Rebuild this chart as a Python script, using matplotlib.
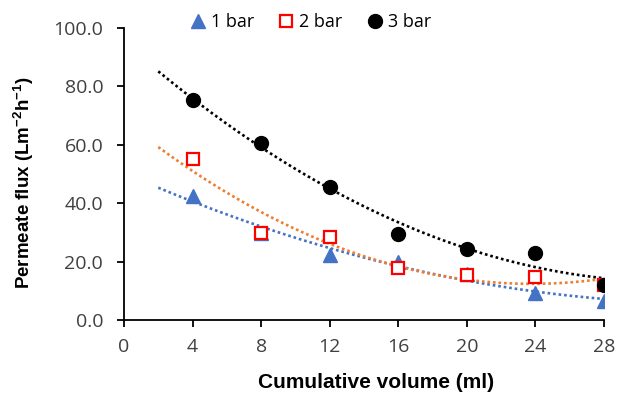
import numpy as np
import matplotlib.pyplot as plt
from matplotlib.lines import Line2D

plt.rcParams['mathtext.fontset'] = 'custom'
plt.rcParams['mathtext.rm'] = 'Liberation Sans'
plt.rcParams['mathtext.bf'] = 'Liberation Sans:bold'

# datos
volumen = [4, 8, 12, 16, 20, 24, 28]
flux_1bar = [42.5, 29.8, 22.4, 19.8, 15.8, 9.4, 6.4]
flux_2bar = [55.0, 29.7, 28.3, 17.8, 15.4, 14.6, 12.0]
flux_3bar = [75.3, 60.7, 45.7, 29.5, 24.3, 22.8, 12.0]
etiquetas = ['1 bar', '2 bar', '3 bar']

fig = plt.figure(figsize=(6.17, 3.94), dpi=100)
ax = fig.add_axes([124/617, 1-320/394, 480/617, 292/394])

# lineas de tendencia polinomicas (orden 2), extendidas 2 unidades hacia atras
xt = np.linspace(2, 28, 200)
colores_tend = ['#4472C4', '#ED7D31', '#000000']
for datos, c in zip([flux_1bar, flux_2bar, flux_3bar], colores_tend):
    p = np.polyfit(volumen, datos, 2)
    ax.plot(xt, np.polyval(p, xt), ls=(0, (1, 1.1)), lw=1.9, color=c, zorder=1)

ax.plot(volumen, flux_1bar, ls='none', marker='^', ms=10, color='#4472C4', zorder=3)
ax.plot(volumen, flux_2bar, ls='none', marker='s', ms=9, mfc='white', mec='#FF0000', mew=1.6, zorder=3)
ax.plot(volumen, flux_3bar, ls='none', marker='o', ms=10, color='#000000', zorder=4)

ax.set_xlim(0, 28)
ax.set_ylim(0, 100)
ax.set_xticks(range(0, 29, 4))
ax.set_yticks(range(0, 101, 20))
ax.set_yticklabels(['%.1f' % v for v in range(0, 101, 20)])
ax.spines['top'].set_visible(False)
ax.spines['right'].set_visible(False)
ax.spines['left'].set_linewidth(1.3)
ax.spines['bottom'].set_linewidth(1.3)
ax.tick_params(direction='out', length=5, width=1.3, labelsize=14, labelcolor='#404040')
ax.tick_params(axis='y', pad=10)
ax.tick_params(axis='x', pad=8)
for t in ax.get_xticklabels() + ax.get_yticklabels():
    t.set_family('Open Sans')

ax.set_xlabel('Cumulative volume (ml)', fontsize=15, fontweight='bold', family='Liberation Sans')
ax.set_ylabel('Permeate flux (Lm$^{\\mathbf{-2}}$h$^{\\mathbf{-1}}$)', fontsize=13.5, fontweight='bold', family='Liberation Sans')
ax.xaxis.label.set_va('center')
ax.yaxis.label.set_va('center')
ax.xaxis.set_label_coords((376-124)/480, (320-383)/292)
ax.yaxis.set_label_coords((24-124)/480, (320-183)/292)

handles = [
    Line2D([], [], ls='none', marker='^', ms=10, color='#4472C4'),
    Line2D([], [], ls='none', marker='s', ms=9, mfc='white', mec='#FF0000', mew=1.6),
    Line2D([], [], ls='none', marker='o', ms=10, color='#000000'),
]
fig.legend(handles, etiquetas, loc='center', bbox_to_anchor=(309/617, 1-22/394), ncol=3, frameon=False,
           handletextpad=0.1, columnspacing=1.2, handlelength=1.2, prop={'family': 'Open Sans', 'size': 13})

fig.savefig('out.png', dpi=100)
